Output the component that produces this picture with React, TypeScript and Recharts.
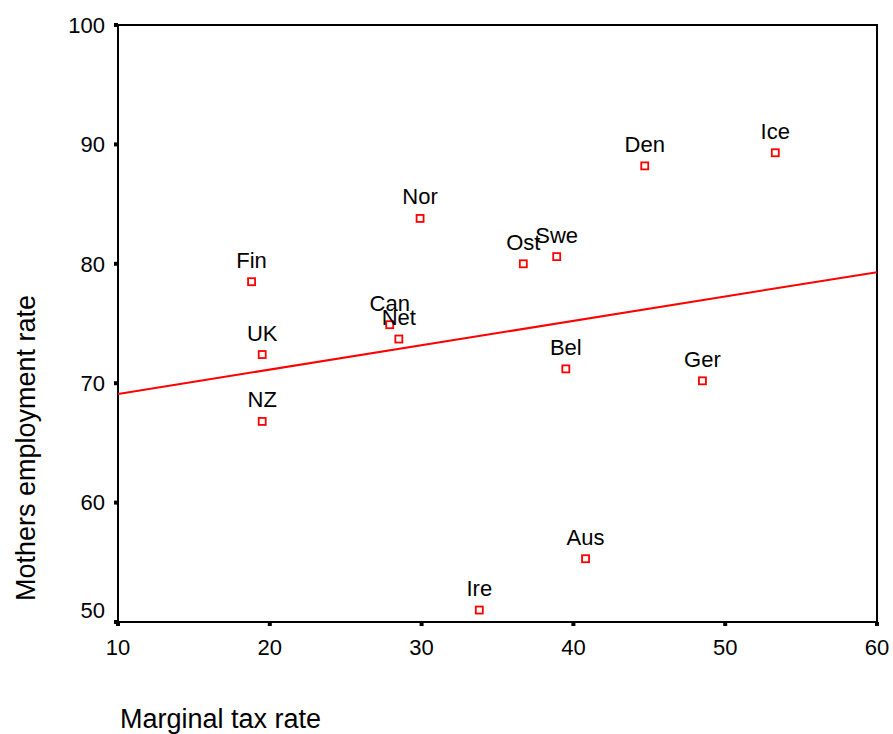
import {
  ScatterChart,
  Scatter,
  XAxis,
  YAxis,
  ReferenceArea,
} from 'recharts';

const countries = ['Fin', 'UK', 'NZ', 'Can', 'Net', 'Nor', 'Ost', 'Swe', 'Bel', 'Aus', 'Ire', 'Den', 'Ice', 'Ger'];
const taxRate = [18.8, 19.5, 19.5, 27.9, 28.5, 29.9, 36.7, 38.9, 39.5, 40.8, 33.8, 44.7, 53.3, 48.5];
const employment = [78.5, 72.4, 66.8, 74.9, 73.7, 83.8, 80.0, 80.6, 71.2, 55.3, 51.0, 88.2, 89.3, 70.2];

// fitted line at both ends of the axis
const fitX = [10, 60];
const fitY = [69.1, 79.3];

const xTicks = [10, 20, 30, 40, 50, 60];
const yTicks = [50, 60, 70, 80, 90, 100];

const FONT = '"Liberation Sans", Arial, sans-serif';
const RED = '#ff0000';

const points = countries.map((name, i) => ({ name, x: taxRate[i], y: employment[i] }));
const fitLine = fitX.map((x, i) => ({ x, y: fitY[i] }));

const CountryMark = (props: any) => {
  const { cx, cy, payload } = props;
  return (
    <g>
      <rect x={cx - 3.5} y={cy - 3.5} width={7} height={7} fill="#fff" stroke={RED} strokeWidth={1.8} />
      <text x={cx} y={cy - 14} textAnchor="middle" fontSize={22} fontFamily={FONT} fill="#000">
        {payload.name}
      </text>
    </g>
  );
};

const YTick = ({ x, y, payload }: any) => (
  <text
    x={x}
    y={payload.value === 50 ? y - 12 : y}
    dy="0.355em"
    textAnchor="end"
    fontSize={22}
    fontFamily={FONT}
    fill="#000"
  >
    {payload.value}
  </text>
);

const XTick = ({ x, y, payload }: any) => (
  <text x={x} y={y} dy="0.71em" textAnchor="middle" fontSize={22} fontFamily={FONT} fill="#000">
    {payload.value}
  </text>
);

export default function App() {
  return (
    <div style={{ position: 'absolute', left: 0, top: 0 }}>
      <ScatterChart width={893} height={734} margin={{ top: 25, right: 16, left: 48, bottom: 62 }}>
        <XAxis
          type="number"
          dataKey="x"
          domain={[10, 60]}
          ticks={xTicks}
          allowDataOverflow
          height={50}
          axisLine={{ stroke: '#000', strokeWidth: 2 }}
          tickLine={{ stroke: '#000', strokeWidth: 4 }}
          tickSize={4}
          tickMargin={13}
          tick={<XTick />}
          label={{
            content: () => (
              <text x={120} y={728} textAnchor="start" fontSize={27} fontFamily={FONT} fill="#000">
                Marginal tax rate
              </text>
            ),
          }}
        />
        <YAxis
          type="number"
          dataKey="y"
          domain={[50, 100]}
          ticks={yTicks}
          allowDataOverflow
          width={70}
          axisLine={{ stroke: '#000', strokeWidth: 2 }}
          tickLine={{ stroke: '#000', strokeWidth: 4 }}
          tickSize={4}
          tickMargin={9}
          tick={<YTick />}
          label={{
            content: () => (
              <text
                x={25}
                y={448}
                transform="rotate(-90 25 448)"
                textAnchor="middle"
                dy="0.355em"
                fontSize={27}
                fontFamily={FONT}
                fill="#000"
              >
                Mothers employment rate
              </text>
            ),
          }}
        />
        <ReferenceArea x1={10} x2={60} y1={50} y2={100} fill="none" stroke="#000" strokeWidth={2} />
        <Scatter
          data={fitLine}
          line={{ stroke: RED, strokeWidth: 2 }}
          shape={() => <g />}
          isAnimationActive={false}
        />
        <Scatter data={points} shape={<CountryMark />} isAnimationActive={false} />
      </ScatterChart>
    </div>
  );
}
